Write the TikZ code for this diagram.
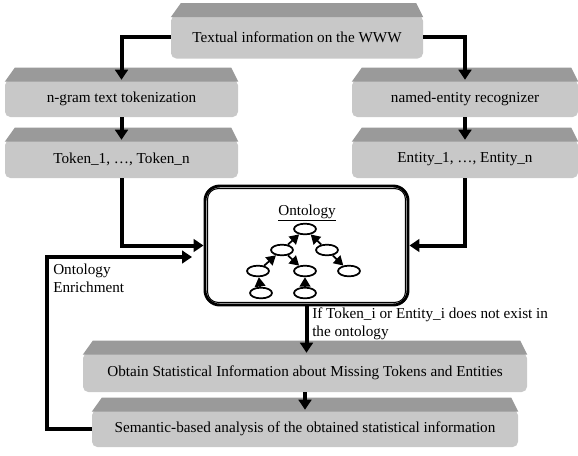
\documentclass[tikz,border=0pt]{standalone}
\usepackage{fontspec}
\setmainfont{Liberation Serif}
\usetikzlibrary{arrows.meta,calc,shapes.geometric}
\definecolor{facegray}{HTML}{C8C8C8}
\definecolor{stripgray}{HTML}{9A9A9A}
% darker bevel strip on top of a process box
\newcommand\bevel[1]{%
  \fill[stripgray] ($(#1.north west)+(0,2)$) -- ($(#1.north west)+(10,-12)$)
    -- ($(#1.north east)+(-7,-12)$) -- ($(#1.north east)+(0,2)$) -- cycle;}
\begin{document}
\begin{tikzpicture}[x=0.75pt,y=-0.75pt,
  every node/.style={font=\rmfamily\fontsize{11.4}{13.5}\selectfont, inner sep=0pt},
  facebox/.style={fill=facegray, rounded corners=4pt},
  flow/.style={line width=3pt, -{Triangle[length=7.5pt,width=9.5pt]}},
  treenode/.style={ellipse, draw, fill=white, line width=1.3pt,
    minimum width=16.5pt, minimum height=8pt},
  treelink/.style={line width=1.3pt, -{Triangle[length=7pt,width=8pt]}},
]
\useasboundingbox (0,0) rectangle (578,455);

% process boxes
\node[facebox, minimum width=189pt, minimum height=32.25pt] (www) at (297,37) {Textual information on the WWW};
\node[facebox, minimum width=174.75pt, minimum height=27.75pt] (ngram) at (121.5,98.5) {n-gram text tokenization};
\node[facebox, minimum width=174.75pt, minimum height=28.5pt] (tok) at (121.5,159) {Token\_1, …, Token\_n};
\node[facebox, minimum width=169.5pt, minimum height=27.75pt] (ner) at (465,98.5) {named-entity recognizer};
\node[facebox, minimum width=169.5pt, minimum height=28.5pt] (ent) at (465,159) {Entity\_1, …, Entity\_n};
\node[facebox, minimum width=333pt, minimum height=29.25pt] (obt) at (305,372.5) {Obtain Statistical Information about Missing Tokens and Entities};
\node[facebox, minimum width=319.5pt, minimum height=27.75pt] (sem) at (305,428.5) {Semantic-based analysis of the obtained statistical information};
\bevel{www}\bevel{ngram}\bevel{tok}\bevel{ner}\bevel{ent}\bevel{obt}\bevel{sem}

% ontology box with double border
\node[draw, line width=2.2pt, rounded corners=11pt, minimum width=152.25pt, minimum height=89.25pt] (onto) at (306.5,245.5) {};
\draw[line width=0.8pt, rounded corners=8pt] ($(onto.north west)+(4,4)$) rectangle ($(onto.south east)+(-4,-4)$);
\node (ontt) at (307,213) {\underline{Ontology}};

% small ontology tree
\node[treenode] (o1) at (305,229) {};
\node[treenode] (o2) at (282,250) {};
\node[treenode] (o3) at (327,250) {};
\node[treenode] (o4) at (258,271) {};
\node[treenode] (o5) at (305,271) {};
\node[treenode] (o6) at (349,271) {};
\node[treenode] (o7) at (261,293) {};
\node[treenode] (o8) at (305,293) {};
\draw[treelink] (o2) -- (o1);
\draw[treelink] (o3) -- (o1);
\draw[treelink] (o4) -- (o2);
\draw[treelink] (o2) -- (o5);
\draw[treelink] (o3) -- (o6);
\draw[treelink] (o7) -- (o4);
\draw[treelink] (o8) -- (o5);

% main flow
\draw[flow] (www.west) -| (ngram.north);
\draw[flow] (www.east) -| (ner.north);
\draw[flow] (ngram.south) -- (tok.north);
\draw[flow] (ner.south) -- (ent.north);
\draw[flow] (tok.south) |- (onto.west);
\draw[flow] (ent.south) |- (onto.east);
\draw[flow] (onto.south) -- (onto.south |- obt.north);
\draw[flow] (obt.south) -- (sem.north);

% feedback loop
\coordinate (fbend) at (192,257);
\draw[flow] (sem.west) -- ++(-45,0) |- (fbend);

% labels
\node[anchor=west, align=left] (enr) at (53,278) {Ontology\\Enrichment};
\node[anchor=west, align=left] (cond) at (312,324) {If Token\_i or Entity\_i does not exist in\\the ontology};
\end{tikzpicture}
\end{document}
